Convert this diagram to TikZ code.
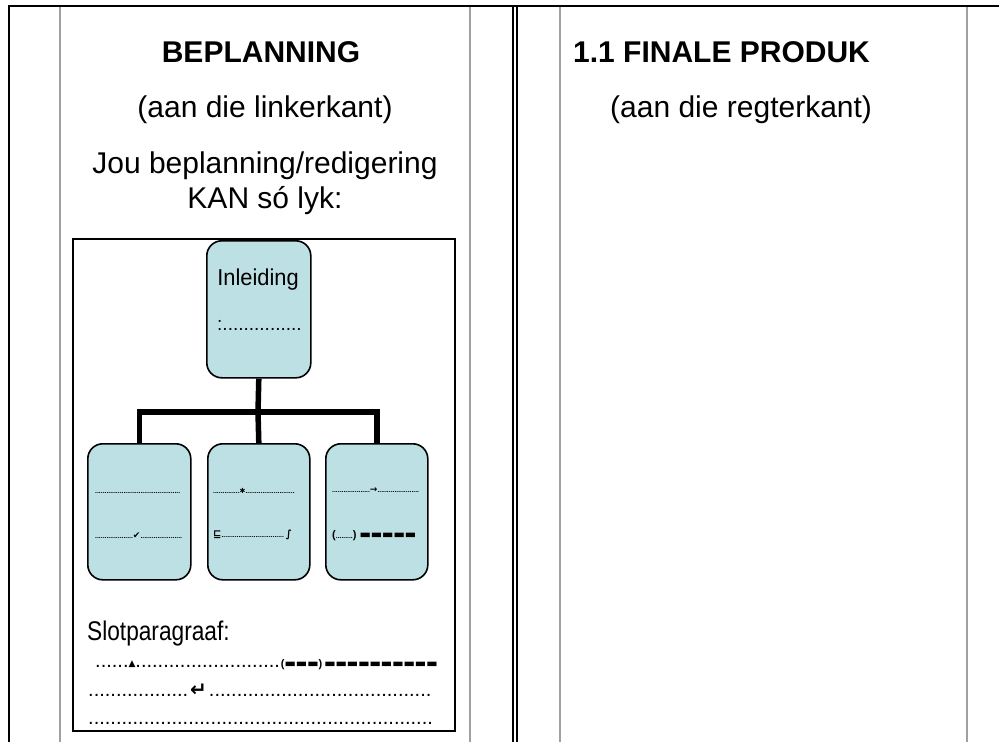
\documentclass[tikz,border=0pt]{standalone}
\usepackage{fontspec}
\setmainfont{Liberation Sans}
\newfontfamily\symf{DejaVu Sans}
\newfontfamily\narrowf[FakeStretch=0.84]{Liberation Sans}
\newfontfamily\semif[FakeStretch=0.95]{Liberation Sans}
\ExplSyntaxOn
\NewDocumentCommand\dotrun{m}{\prg_replicate:nn{#1}{.}}
\ExplSyntaxOff
\definecolor{boxfill}{HTML}{BCE0E3}
\definecolor{rulegray}{HTML}{A0A0A0}
\tikzset{
  frame/.style={line width=2pt},
  grayrule/.style={draw=rulegray, line width=1.3pt},
  card/.style={draw=black, line width=1.6pt, fill=boxfill, rounded corners=15pt,
    minimum height=136pt, inner sep=0pt, anchor=north west},
  conn/.style={line width=5.5pt},
  txt/.style={inner sep=0pt, anchor=base},
  lefttxt/.style={inner sep=0pt, anchor=base west},
  big/.style={font=\fontsize{30}{34}\selectfont},
  bigbold/.style={font=\bfseries\fontsize{30}{34}\selectfont},
  tiny/.style={font=\bfseries\fontsize{6.8}{8}\selectfont},
  dotfont/.style={font=\fontsize{20}{22}\selectfont},
}
\newcommand\sym[2]{{\symf\fontsize{#1}{#1}\selectfont #2}}
\newcommand\bsym[2]{{\symf\bfseries\fontsize{#1}{#1}\selectfont #2}}
\newcommand\bpar[2]{{\bfseries\fontsize{#1}{#1}\selectfont #2}}
\begin{document}
\begin{tikzpicture}[x=1pt,y=-1pt]
\useasboundingbox[fill=white] (0,0) rectangle (999,742);
% table rules
\draw[grayrule] (60,7) -- (60,742);
\draw[grayrule] (470,7) -- (470,742);
\draw[grayrule] (560,7) -- (560,742);
\draw[grayrule] (967,7) -- (967,742);
\draw[frame] (9,6) -- (999,6);
\draw[frame] (9,5) -- (9,742);
\draw[line width=1.3pt] (513,6) -- (513,742);
\draw[line width=1.3pt] (517,6) -- (517,742);
% headings
\node[txt, bigbold] (h1) at (261,62) {BEPLANNING};
\node[txt, big] (h2) at (265,117) {(aan die linkerkant)};
\node[txt, big] (h3) at (265,173) {Jou beplanning/redigering};
\node[txt, big] (h4) at (265,208) {KAN só lyk:};
\node[lefttxt, bigbold] (r1) at (573,62) {1.1 FINALE PRODUK};
\node[lefttxt, big] (r2) at (610,117) {(aan die regterkant)};
% inner frame
\draw[line width=2.5pt] (73,239) rectangle (455,731);
% cards
\node[card, minimum width=104pt, minimum height=137pt] (inl) at (206,240) {};
\node[card, minimum width=103pt] (b1) at (87,443) {};
\node[card, minimum width=102pt] (b2) at (207,443) {};
\node[card, minimum width=102pt] (b3) at (325,443) {};
% connectors
\coordinate (hub) at (258,412);
\draw[conn] (inl.south) -- (hub);
\draw[conn] (b1.north) |- (hub) -| (b3.north);
\draw[conn] (hub) -- (b2.north);
% card texts
\node[txt, font=\semif\fontsize{23}{26}\selectfont] (tinl) at (258,285) {Inleiding};
\node[lefttxt, font=\fontsize{19}{22}\selectfont] (tinld) at (217,330) {:\dotrun{15}};
\node[lefttxt, tiny] (b1a) at (95,493) {\dotrun{45}};
\node[lefttxt, tiny] (b1b) at (95,538) {\dotrun{20}\sym{9}{✔}\dotrun{22}};
\node[lefttxt, tiny] (b2a) at (213,493) {\dotrun{14}\sym{7}{✱}\dotrun{26}};
\node[lefttxt, tiny] (b2b) at (213,537) {\sym{10}{⊑}\dotrun{33}\hspace{2pt}\sym{10}{∫}};
\node[lefttxt, tiny] (b3a) at (332,492) {\dotrun{20}\bsym{9}{→}\dotrun{22}};
\node[lefttxt, tiny] (b3b) at (332,538) {\bpar{11}{(}\dotrun{9}\bpar{11}{)}\hspace{3pt}\sym{12}{▬▬▬▬▬}};
% closing paragraph
\node[lefttxt, font=\narrowf\fontsize{27}{30}\selectfont] (slot) at (87,640) {Slotparagraaf:};
\node[lefttxt, dotfont] (s1) at (95,667) {\dotrun{6}\raisebox{1pt}{\sym{9}{▲}}\dotrun{26}\hspace{1pt}\bpar{11}{(}\sym{12}{▬▬▬}\bpar{11}{)}\hspace{2pt}\sym{12}{▬▬▬▬▬▬▬▬▬▬}};
\node[lefttxt, dotfont] (s2) at (88,696) {\dotrun{18}\hspace{2pt}\bsym{20}{↵}\hspace{2pt}\dotrun{40}};
\node[lefttxt, dotfont] (s3) at (88,724) {\dotrun{62}};
\end{tikzpicture}
\end{document}
